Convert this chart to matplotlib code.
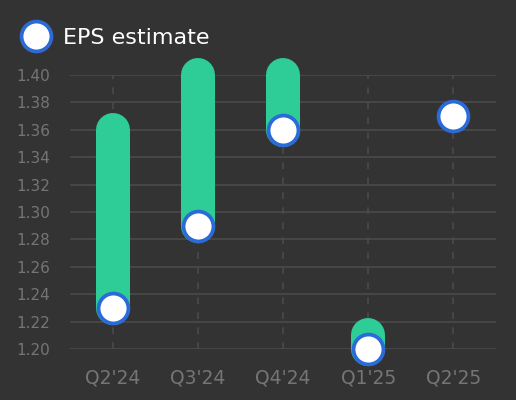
import matplotlib.pyplot as plt
from matplotlib.lines import Line2D

quarters = ["Q2'24", "Q3'24", "Q4'24", "Q1'25", "Q2'25"]
eps_estimate = [1.23, 1.29, 1.36, 1.20, 1.37]
eps_actual = [1.36, 1.40, 1.40, 1.21, None]

bg = '#333333'
green = '#2ecc96'
blue = '#2b6bd8'
grid_col = '#4b4b4b'
tick_col = '#757575'

fig = plt.figure(figsize=(5.16, 4.0), dpi=100, facecolor=bg)
ax = fig.add_axes([70 / 516, 51 / 400, 426 / 516, 274 / 400], facecolor=bg)

x = list(range(len(quarters)))

# vertical dashed guides
for xi in x:
    ax.axvline(xi, color=grid_col, lw=1.2, ls=(0, (4, 5)), zorder=1)
# horizontal grid
for yv in [1.20 + 0.02 * i for i in range(11)]:
    ax.axhline(yv, color=grid_col, lw=1.2, zorder=1)

# bars from estimate to actual, round caps
for xi, est, act in zip(x, eps_estimate, eps_actual):
    if act is None:
        continue
    ax.plot([xi, xi], [est, act], color=green, lw=24.5,
            solid_capstyle='round', zorder=2, clip_on=False)

ax.plot(x, eps_estimate, ls='none', marker='o', ms=21.5, mfc='white',
        mec=blue, mew=2.7, zorder=3, clip_on=False)

ax.set_xlim(-0.5, 4.5)
ax.set_ylim(1.20, 1.40)
ax.set_yticks([1.20 + 0.02 * i for i in range(11)])
ax.set_yticklabels([f'{1.20 + 0.02 * i:.2f}' for i in range(11)])
ax.set_xticks(x)
ax.set_xticklabels(quarters)
ax.tick_params(axis='y', colors=tick_col, labelsize=11, length=0, pad=14.5)
ax.tick_params(axis='x', colors=tick_col, labelsize=13.5, length=0, pad=14)
for s in ax.spines.values():
    s.set_visible(False)

# legend
handle = Line2D([], [], ls='none', marker='o', ms=21.5, mfc='white',
                mec=blue, mew=2.7)
leg = fig.legend([handle], ['EPS estimate'], loc='center left',
                 bbox_to_anchor=(24 / 516, 1 - 38 / 400), frameon=False,
                 fontsize=16, labelcolor='white', handlelength=1.1,
                 handletextpad=0.65, borderpad=0, borderaxespad=0)

fig.savefig('out.png', dpi=100, facecolor=bg)
